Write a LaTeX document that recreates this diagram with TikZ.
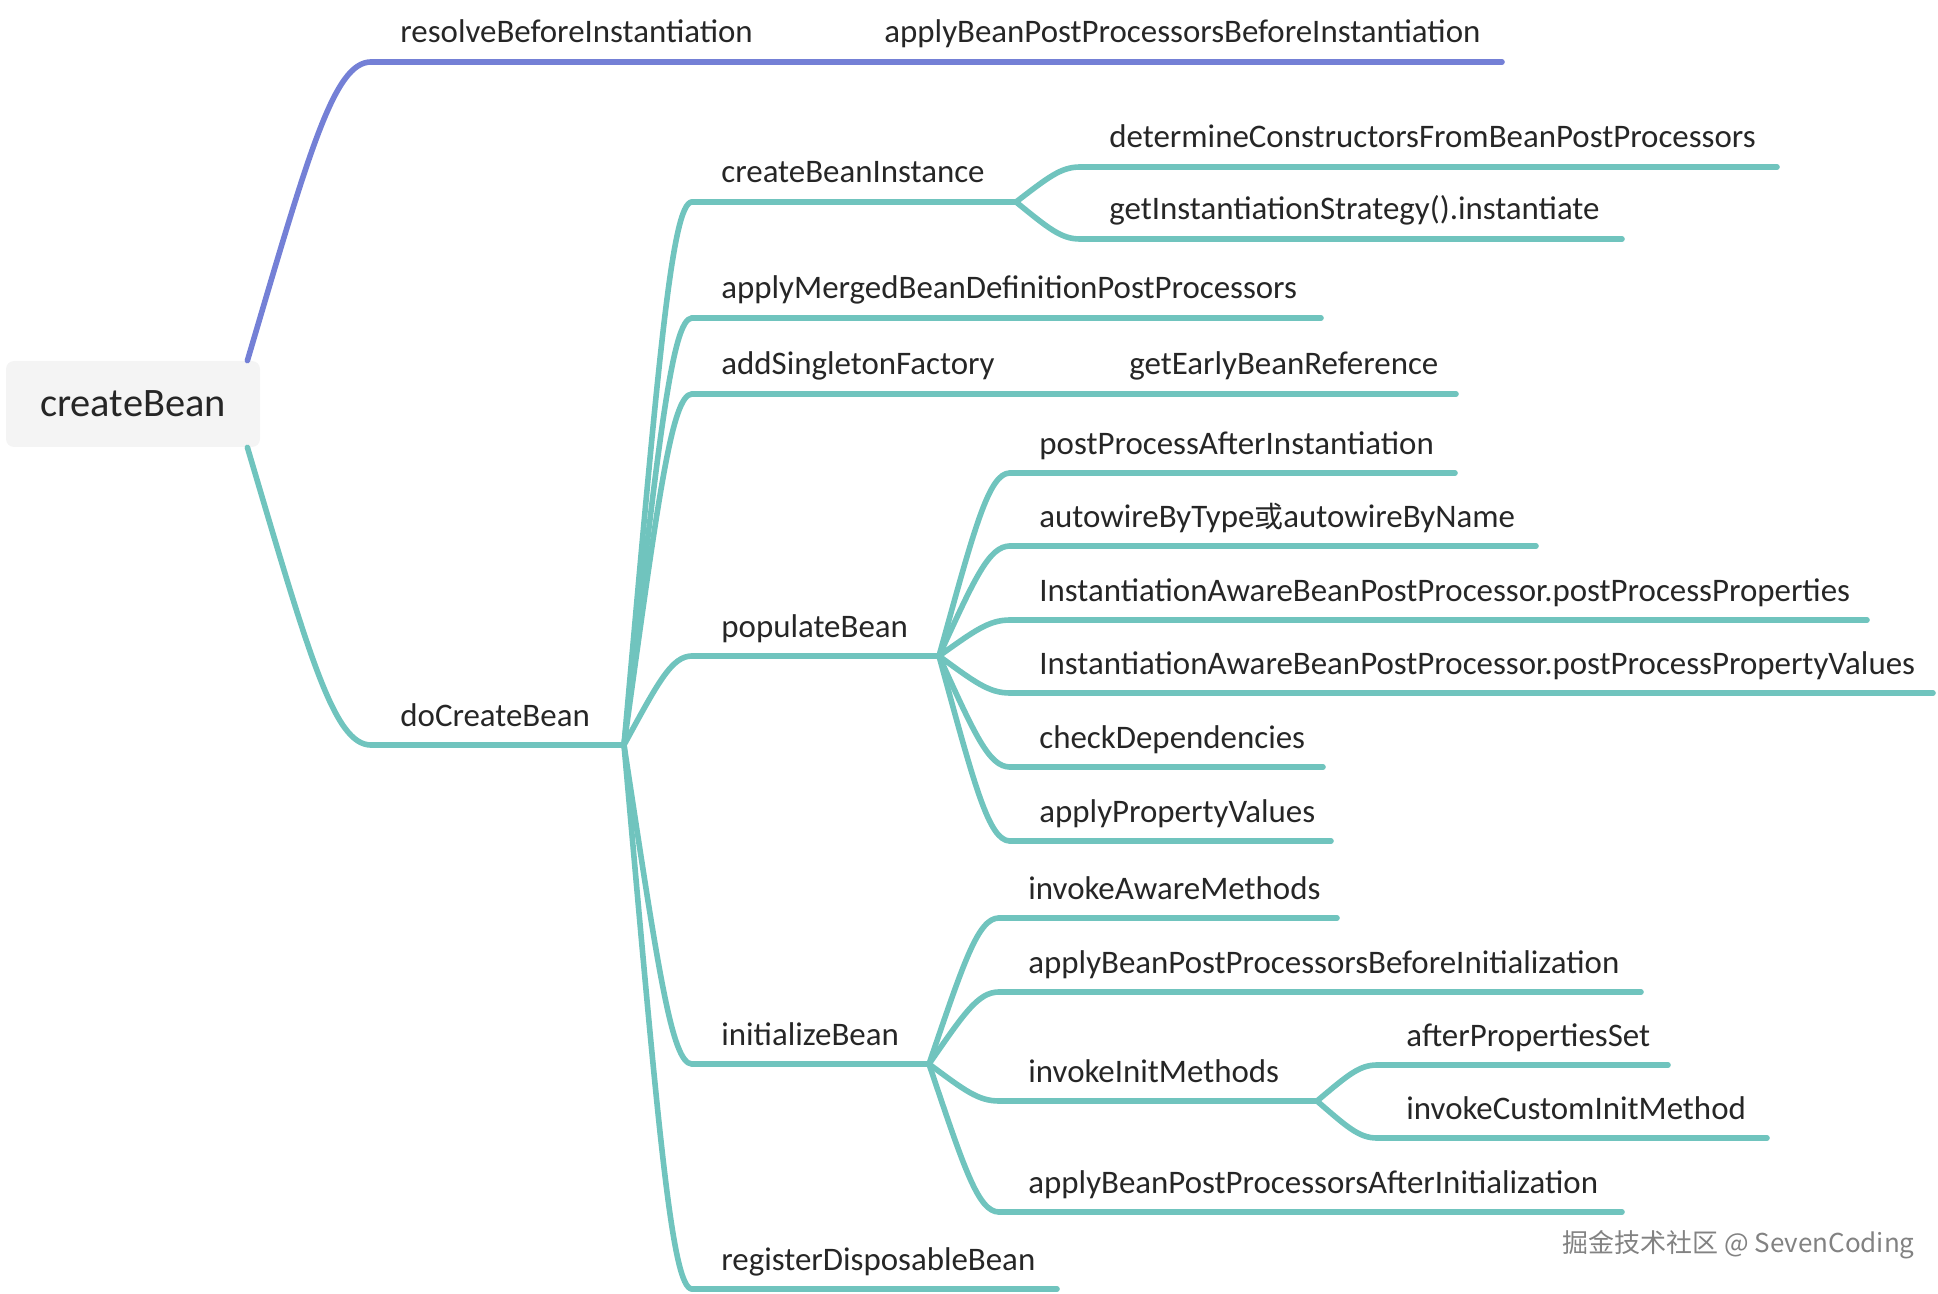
\documentclass[tikz,border=0pt]{standalone}
\usepackage{fontspec}
\setmainfont{Carlito}
\newfontfamily\cjk{Noto Sans CJK SC}
\usetikzlibrary{calc}
\definecolor{tealc}{RGB}{112,196,190}
\definecolor{purplec}{RGB}{116,128,214}
\definecolor{txtc}{RGB}{38,38,38}
\definecolor{rootfill}{RGB}{244,244,244}
\definecolor{wmc}{RGB}{130,130,130}
\tikzset{
  branch/.style={line width=2.8pt, line cap=round, line join=round, draw=tealc},
  pbranch/.style={branch, draw=purplec},
  txt/.style={anchor=base west, inner sep=0pt, text=txtc, font=\fontsize{16.45pt}{19pt}\selectfont},
  rootbox/.style={fill=rootfill, rounded corners=4pt, minimum width=127pt, minimum height=43pt, inner sep=0pt, text=txtc, font=\fontsize{20.2pt}{24pt}\selectfont},
  wmark/.style={anchor=base west, inner sep=0pt, text=wmc, font=\cjk\fontsize{13pt}{15pt}\selectfont},
}
% #1 style, #2 name, #3 x start, #4 y, #5 x end, #6 text
\newcommand\mmtopic[6][branch]{%
  \coordinate (#2-s) at (#3,#4);
  \coordinate (#2-e) at (#5,#4);
  \draw[#1] (#2-s) -- (#2-e);
  \node[txt] (#2) at ($(#2-s)+(29,-19)$) {#6};
}
\newcommand\mmconn[3][branch]{%
  \draw[#1] let \p1=(#2), \p2=(#3) in (\p1) .. controls ({\x1+0.5*(\x2-\x1)},{\y1+0.7*(\y2-\y1)}) and ({\x1+0.7*(\x2-\x1)},\y2) .. (\p2);
}
\begin{document}
\begin{tikzpicture}[x=0.5pt,y=-0.5pt]
\useasboundingbox (0,0) rectangle (1938,1294);
% root
\node[rootbox] (root) at (133,404) {createBean};
\coordinate (root-t) at ($(root.north east)+(-13,0)$);
\coordinate (root-b) at ($(root.south east)+(-13,0)$);
% topics
\mmtopic[pbranch]{rbi}{371}{62}{855}{resolveBeforeInstantiation}
\mmtopic[pbranch]{abppbi}{855}{62}{1502}{applyBeanPostProcessorsBeforeInstantiation}
\mmtopic{dcb}{371}{745}{624}{doCreateBean}
\mmtopic{cbi}{692}{202}{1016}{createBeanInstance}
\mmtopic{dcf}{1080}{167}{1777}{determineConstructorsFromBeanPostProcessors}
\mmtopic{gis}{1080}{239}{1622}{getInstantiationStrategy().instantiate}
\mmtopic{amb}{692}{318}{1321}{applyMergedBeanDefinitionPostProcessors}
\mmtopic{asf}{692}{394}{1100}{addSingletonFactory}
\mmtopic{gebr}{1100}{394}{1456}{getEarlyBeanReference}
\mmtopic{pb}{692}{656}{939}{populateBean}
\mmtopic{ppai}{1010}{473}{1455}{postProcessAfterInstantiation}
\mmtopic{awt}{1010}{546}{1536}{autowireByType{\cjk\fontsize{14.5pt}{19pt}\selectfont 或}autowireByName}
\mmtopic{ppp}{1010}{620}{1867}{InstantiationAwareBeanPostProcessor.postProcessProperties}
\mmtopic{ppv}{1010}{693}{1933}{InstantiationAwareBeanPostProcessor.postProcessPropertyValues}
\mmtopic{cd}{1010}{767}{1323}{checkDependencies}
\mmtopic{apv}{1010}{841}{1331}{applyPropertyValues}
\mmtopic{ib}{692}{1064}{929}{initializeBean}
\mmtopic{iam}{999}{918}{1337}{invokeAwareMethods}
\mmtopic{abpbi}{999}{992}{1641}{applyBeanPostProcessorsBeforeInitialization}
\mmtopic{iim}{999}{1101}{1317}{invokeInitMethods}
\mmtopic{aps}{1377}{1065}{1668}{afterPropertiesSet}
\mmtopic{icim}{1377}{1138}{1767}{invokeCustomInitMethod}
\mmtopic{abpai}{999}{1212}{1622}{applyBeanPostProcessorsAfterInitialization}
\mmtopic{rdb}{692}{1289}{1057}{registerDisposableBean}
% connectors
\mmconn[pbranch]{root-t}{rbi-s}
\mmconn{root-b}{dcb-s}
\foreach \c in {cbi,amb,asf,pb,ib,rdb} {\mmconn{dcb-e}{\c-s}}
\foreach \c in {dcf,gis} {\mmconn{cbi-e}{\c-s}}
\foreach \c in {ppai,awt,ppp,ppv,cd,apv} {\mmconn{pb-e}{\c-s}}
\foreach \c in {iam,abpbi,iim,abpai} {\mmconn{ib-e}{\c-s}}
\foreach \c in {aps,icim} {\mmconn{iim-e}{\c-s}}
% watermark
\node[wmark] (wm) at (1562,1252) {掘金技术社区 @ SevenCoding};
\end{tikzpicture}
\end{document}
